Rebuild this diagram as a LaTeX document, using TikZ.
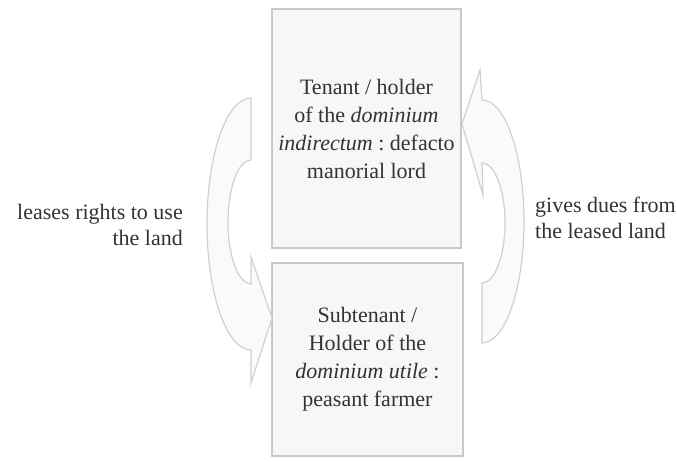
\documentclass[tikz,border=0pt]{standalone}
\usepackage{fontspec}
\setmainfont{Liberation Serif}
\frenchspacing
\definecolor{boxline}{HTML}{C9C9C9}
\definecolor{boxfill}{HTML}{F7F7F7}
\definecolor{arrline}{HTML}{D0D0D0}
\definecolor{arrfill}{HTML}{FAFAFA}
\definecolor{txt}{HTML}{333333}
\begin{document}
\begin{tikzpicture}[x=1pt,y=1pt,
  boxnode/.style={draw=boxline, fill=boxfill, line width=1.4pt, inner sep=0pt,
    align=center, text=txt, font=\fontsize{22}{28}\selectfont},
  lbl/.style={text=txt, inner sep=0pt, font=\fontsize{22}{26}\selectfont},
  bigarrow/.style={draw=arrline, fill=arrfill, line width=1.2pt, line join=miter}]
\useasboundingbox (0,0) rectangle (677,462);
\fill[white] (0,0) rectangle (677,462);

% boxes
\node[boxnode, minimum width=189pt, minimum height=239pt] (tenant) at (366.5,333.5)
  {Tenant / holder\\ of the \textit{dominium}\\ \textit{indirectum} : defacto\\ manorial lord};
\node[boxnode, minimum width=191pt, minimum height=193pt] (subtenant) at (367.5,102.5)
  {Subtenant /\\ Holder of the\\ \textit{dominium utile} :\\ peasant farmer};

% left curved arrow (tail at top, head at bottom pointing right)
\draw[bigarrow] (251,364) -- (251,302)
  arc[start angle=90, end angle=270, x radius=23, y radius=62]
  -- (251,205) -- (272,144) -- (251,79) -- (251,112)
  arc[start angle=270, end angle=90, x radius=44, y radius=126]
  -- cycle;

% right curved arrow (head at top pointing left, tail at bottom)
\draw[bigarrow] (480,392) -- (462,338) -- (483,267) -- (482,299)
  arc[start angle=90, end angle=-90, x radius=23, y radius=60]
  -- (482,119)
  arc[start angle=-90, end angle=90, x radius=42, y radius=121.5]
  -- cycle;

% labels
\node[lbl, align=right, anchor=east] (leases) at (183,237)
  {leases rights to use\\ the land};
\node[lbl, align=left, anchor=west] (gives) at (535,244)
  {gives dues from\\ the leased land};
\end{tikzpicture}
\end{document}
